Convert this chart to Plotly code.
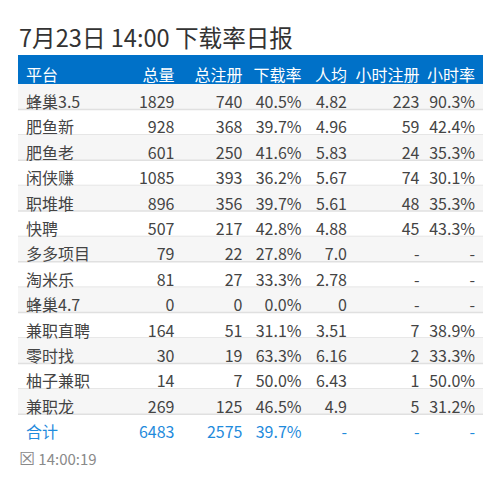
import plotly.graph_objects as go

W, H = 492, 482  # page adds an 8px body margin
FONT = "Noto Sans CJK SC"

headers = ["平台", "总量", "总注册", "下载率", "人均", "小时注册", "小时率"]
platforms = ["蜂巢3.5", "肥鱼新", "肥鱼老", "闲侠赚", "职堆堆", "快聘", "多多项目", "淘米乐",
             "蜂巢4.7", "兼职直聘", "零时找", "柚子兼职", "兼职龙", "合计"]
totals = ["1829", "928", "601", "1085", "896", "507", "79", "81", "0", "164", "30", "14", "269", "6483"]
registers = ["740", "368", "250", "393", "356", "217", "22", "27", "0", "51", "19", "7", "125", "2575"]
dl_rates = ["40.5%", "39.7%", "41.6%", "36.2%", "39.7%", "42.8%", "27.8%", "33.3%", "0.0%", "31.1%",
            "63.3%", "50.0%", "46.5%", "39.7%"]
averages = ["4.82", "4.96", "5.83", "5.67", "5.61", "4.88", "7.0", "2.78", "0", "3.51", "6.16", "6.43", "4.9", "-"]
hour_regs = ["223", "59", "24", "74", "48", "45", "-", "-", "-", "7", "2", "1", "5", "-"]
hour_rates = ["90.3%", "42.4%", "35.3%", "30.1%", "35.3%", "43.3%", "-", "-", "-", "38.9%", "33.3%",
              "50.0%", "31.2%", "-"]
columns = [platforms, totals, registers, dl_rates, averages, hour_regs, hour_rates]
col_widths = [100, 64.5, 68, 59, 45.5, 72.5, 55.5]

LEFT, RIGHT, TOP = 10, 475, 47
HEAD_H, ROW_H = 29, 25.4
TEXT_DROP = 4  # table text sits high in its cell
n = len(platforms)
body_top = TOP + HEAD_H
bottom = body_top + ROW_H * n


def py(y):
    return 1 - y / H


text_colors = ["#444444"] * (n - 1) + ["#1f8bdc"]
clear = "rgba(0,0,0,0)"

fig = go.Figure(go.Table(
    domain=dict(x=[LEFT / W, RIGHT / W], y=[py(bottom + TEXT_DROP), py(TOP + 6)]),
    columnwidth=col_widths,
    header=dict(values=headers, height=HEAD_H + TEXT_DROP - 6, fill_color=clear,
                font=dict(family=FONT, size=16, color="#ffffff"),
                align=["left"] + ["right"] * 6, line_width=0, line_color=clear),
    cells=dict(values=columns, height=ROW_H, fill_color=clear,
               font=dict(family=FONT, size=16, color=[text_colors] * 7),
               align=["left"] + ["right"] * 6, line_width=0, line_color=clear),
))

fig.add_shape(type="rect", xref="paper", yref="paper", x0=LEFT / W, x1=RIGHT / W,
              y0=py(body_top), y1=py(TOP), fillcolor="#0071c8", line_width=0, layer="below")

# row stripes and separators
for i in range(n - 1):
    y0 = body_top + ROW_H * i
    y1 = y0 + ROW_H
    if i % 2 == 0:
        fig.add_shape(type="rect", xref="paper", yref="paper", x0=LEFT / W, x1=RIGHT / W,
                      y0=py(y1), y1=py(y0), fillcolor="#f6f6f6", line_width=0, layer="below")
    fig.add_shape(type="line", xref="paper", yref="paper", x0=LEFT / W, x1=RIGHT / W,
                  y0=py(y1), y1=py(y1), line=dict(color="#e0e0e0", width=1.5), layer="below")

fig.add_annotation(text="7月23日 14:00 下载率日报", xref="paper", yref="paper", x=9 / W, y=py(29),
                   xanchor="left", yanchor="middle", showarrow=False,
                   font=dict(family=FONT, size=23.6, color="#333333"))
fig.add_annotation(text='<span style="font-size:18px">☒</span> 14:00:19', xref="paper", yref="paper",
                   x=9 / W, y=py(449), xanchor="left", yanchor="middle", showarrow=False,
                   font=dict(family=FONT, size=15, color="#8a8a8a"))

fig.update_layout(width=W, height=H, margin=dict(l=0, r=0, t=0, b=0),
                  paper_bgcolor="#ffffff", showlegend=False)
fig.write_html("out.html")
